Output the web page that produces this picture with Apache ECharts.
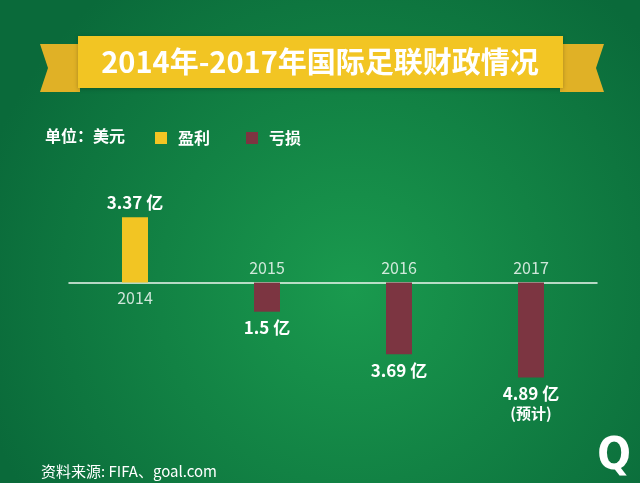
<!DOCTYPE html>
<html>
<head>
<meta charset="utf-8">
<script src="https://cdn.jsdelivr.net/npm/echarts@6/dist/echarts.min.js"></script>
<style>
  html, body { margin: 0; padding: 0; }
  #chart { width: 640px; height: 483px; }
</style>
</head>
<body>
<div id="chart"></div>
<script>
// 数据
const years = ['2014', '2015', '2016', '2017']
const values = [3.37, -1.5, -3.69, -4.89] // 单位: 亿美元
const notes = ['', '', '', '(预计)']

const FONT = '"Noto Sans CJK SC", "Noto Sans", sans-serif'
const YELLOW = '#f2c523'
const RED = '#7c3541'

// 按正负拆成两个系列
const profit = values.map((v) => (v >= 0 ? v : '-'))
const loss = values.map((v) => (v < 0 ? v : '-'))

const chart = echarts.init(document.getElementById('chart'))

const valueLabel = (p) => {
  const i = p.dataIndex
  let s = Math.abs(values[i]) + ' 亿'
  if (notes[i]) s += '\n{n|' + notes[i] + '}'
  return s
}

const option = {
  backgroundColor: {
    type: 'radial',
    x: 0.55, y: 0.6, r: 0.8,
    colorStops: [
      {offset: 0, color: '#1a9a4e'},
      {offset: 1, color: '#0a6a3a'},
    ],
  },
  textStyle: {fontFamily: FONT},
  legend: {
    data: ['盈利', '亏损'],
    left: 150,
    top: 125,
    icon: 'rect',
    itemWidth: 12,
    itemHeight: 12,
    itemGap: 36,
    textStyle: {color: '#fff', fontSize: 16, fontWeight: 'bold', fontFamily: FONT, padding: [0, 0, 0, 6]},
  },
  grid: {left: 69, width: 528, top: 205, height: 194},
  xAxis: {
    type: 'category',
    data: years,
    axisLine: {onZero: true, lineStyle: {color: '#eef6ef', width: 1.5}},
    axisTick: {show: false},
    axisLabel: {show: false},
  },
  yAxis: {
    type: 'value',
    min: -6,
    max: 4,
    show: false,
    splitLine: {show: false},
  },
  graphic: [
    // 标题横幅 (燕尾两端 + 主体)
    {type: 'polygon', shape: {points: [[40, 44], [80, 44], [80, 92], [40, 92], [48, 68]]}, style: {fill: '#e0b126'}},
    {type: 'polygon', shape: {points: [[560, 44], [604, 44], [596, 68], [604, 92], [560, 92]]}, style: {fill: '#e0b126'}},
    {type: 'rect', shape: {x: 78, y: 36, width: 485, height: 52}, style: {fill: YELLOW, shadowBlur: 4, shadowColor: 'rgba(0,0,0,0.25)', shadowOffsetY: 1}},
    {
      type: 'text', x: 320, y: 62,
      style: {text: '2014年-2017年国际足联财政情况', fill: '#fff', font: 'bold 29px ' + FONT, textAlign: 'center', textVerticalAlign: 'middle'},
    },
    {
      type: 'text', x: 45, y: 136,
      style: {text: '单位：美元', fill: '#fff', font: 'bold 16px ' + FONT, textVerticalAlign: 'middle'},
    },
    {
      type: 'text', x: 41, y: 471,
      style: {text: '资料来源: FIFA、goal.com', fill: '#fff', font: '15px ' + FONT, textVerticalAlign: 'middle'},
    },
    {
      type: 'text', x: 614, y: 458,
      style: {text: 'Q', fill: '#fff', font: 'bold 44px "DejaVu Sans Condensed", ' + FONT, textAlign: 'center', textVerticalAlign: 'middle'},
    },
  ],
  series: [
    {
      name: '盈利',
      type: 'bar',
      data: profit,
      barWidth: 26,
      itemStyle: {color: YELLOW},
      label: {
        show: true, position: 'top', distance: 6,
        color: '#fff', fontSize: 17, fontWeight: 'bold', fontFamily: FONT,
        formatter: valueLabel,
      },
    },
    {
      name: '亏损',
      type: 'bar',
      data: loss,
      barWidth: 26,
      barGap: '-100%',
      itemStyle: {color: RED},
      label: {
        show: true, position: 'bottom', distance: 6,
        color: '#fff', fontSize: 17, fontWeight: 'bold', fontFamily: FONT,
        lineHeight: 20, align: 'center',
        formatter: valueLabel,
        rich: {n: {fontSize: 15, fontWeight: 'bold', color: '#fff', lineHeight: 20}},
      },
    },
    {
      // 年份标签, 放在零轴的另一侧
      type: 'scatter',
      data: values.map((v) => ({
        value: 0,
        label: {position: v >= 0 ? 'bottom' : 'top'},
      })),
      symbolSize: 0,
      silent: true,
      label: {
        show: true, distance: 7,
        color: '#fff', fontSize: 16, fontFamily: FONT,
        formatter: (p) => years[p.dataIndex],
      },
    },
  ],
}

chart.setOption(option)
</script>
</body>
</html>
